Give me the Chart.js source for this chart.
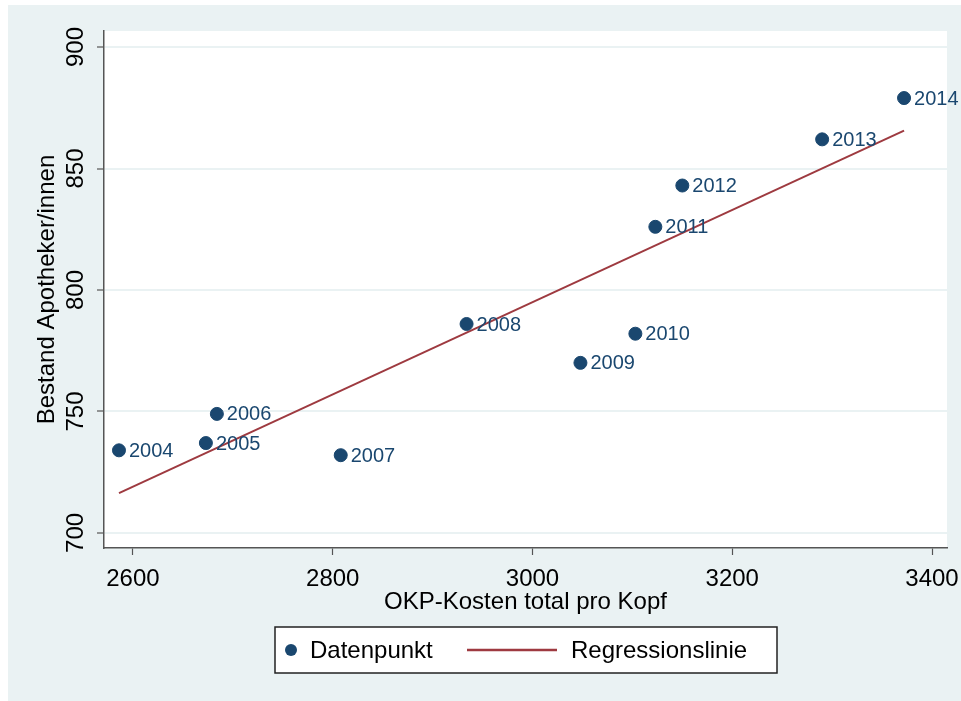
<!DOCTYPE html>
<html>
<head>
<meta charset="utf-8">
<script src="https://cdn.jsdelivr.net/npm/chart.js@4/dist/chart.umd.min.js"></script>
<style>
  html, body { margin: 0; padding: 0; background: #fff; }
  #wrap { width: 961px; height: 701px; }
</style>
</head>
<body>
<div id="wrap"><canvas id="chart"></canvas></div>
<script>
// Data
const years = ['2004', '2005', '2006', '2007', '2008', '2009', '2010', '2011', '2012', '2013', '2014'];
const costs = [2586, 2673, 2684, 2808, 2934, 3048, 3103, 3123, 3150, 3290, 3372];
const pharmacists = [734, 737, 749, 732, 786, 770, 782, 826, 843, 862, 879];

// Regression line end points
const regX = [2586, 3372];
const regY = [716.4, 865.6];

const xTicks = [2600, 2800, 3000, 3200, 3400];
const yTicks = [700, 750, 800, 850, 900];

const navy = '#1A476F';
const maroon = '#9E3A40';
const panel = '#EAF2F3';
const font = "'Liberation Sans', Arial, sans-serif";

// Background panel + white plot area
const backgroundPlugin = {
    id: 'background',
    beforeDraw(chart) {
        const { ctx, chartArea } = chart;
        ctx.save();
        ctx.fillStyle = '#fff';
        ctx.fillRect(0, 0, chart.width, chart.height);
        ctx.fillStyle = panel;
        ctx.fillRect(8, 5, chart.width - 8, chart.height - 5);
        ctx.fillStyle = '#fff';
        ctx.fillRect(chartArea.left, chartArea.top, chartArea.right - chartArea.left, chartArea.bottom - chartArea.top);
        ctx.restore();
    }
};

// Y tick labels are rotated like in Stata
const yLabelPlugin = {
    id: 'yLabels',
    afterDraw(chart) {
        const { ctx } = chart;
        const y = chart.scales.y;
        ctx.save();
        ctx.fillStyle = '#000';
        ctx.font = '24px ' + font;
        ctx.textAlign = 'center';
        ctx.textBaseline = 'middle';
        yTicks.forEach(v => {
            ctx.save();
            ctx.translate(76, y.getPixelForValue(v));
            ctx.rotate(-Math.PI / 2);
            ctx.fillText(String(v), 0, 0);
            ctx.restore();
        });
        ctx.restore();
    }
};

// Year labels next to each point
const pointLabelPlugin = {
    id: 'pointLabels',
    afterDatasetsDraw(chart) {
        const { ctx } = chart;
        const meta = chart.getDatasetMeta(0);
        ctx.save();
        ctx.fillStyle = navy;
        ctx.font = '20px ' + font;
        ctx.textAlign = 'left';
        ctx.textBaseline = 'middle';
        meta.data.forEach((pt, i) => {
            ctx.fillText(years[i], pt.x + 10, pt.y + 1);
        });
        ctx.restore();
    }
};

// Boxed legend at the bottom
const legendPlugin = {
    id: 'boxLegend',
    afterDraw(chart) {
        const { ctx } = chart;
        const left = 275, top = 627, w = 502, h = 46;
        const mid = top + h / 2;
        ctx.save();
        ctx.fillStyle = '#fff';
        ctx.fillRect(left, top, w, h);
        ctx.strokeStyle = '#222';
        ctx.lineWidth = 1.5;
        ctx.strokeRect(left, top, w, h);

        ctx.fillStyle = navy;
        ctx.beginPath();
        ctx.arc(291, mid, 6, 0, Math.PI * 2);
        ctx.fill();

        ctx.strokeStyle = maroon;
        ctx.lineWidth = 2.5;
        ctx.beginPath();
        ctx.moveTo(467, mid);
        ctx.lineTo(557, mid);
        ctx.stroke();

        ctx.fillStyle = '#000';
        ctx.font = '24px ' + font;
        ctx.textAlign = 'left';
        ctx.textBaseline = 'middle';
        ctx.fillText('Datenpunkt', 310, mid + 1);
        ctx.fillText('Regressionslinie', 571, mid + 1);
        ctx.restore();
    }
};

new Chart(document.getElementById('chart'), {
    type: 'scatter',
    data: {
        datasets: [
            {
                label: 'Datenpunkt',
                data: costs.map((c, i) => ({ x: c, y: pharmacists[i] })),
                backgroundColor: navy,
                borderColor: navy,
                pointRadius: 6.5,
                pointHoverRadius: 6.5,
                order: 1
            },
            {
                label: 'Regressionslinie',
                type: 'line',
                data: regX.map((x, i) => ({ x: x, y: regY[i] })),
                borderColor: maroon,
                borderWidth: 2,
                pointRadius: 0,
                fill: false,
                tension: 0,
                order: 2
            }
        ]
    },
    options: {
        responsive: true,
        maintainAspectRatio: false,
        animation: false,
        layout: {
            padding: { left: 20, right: 14, top: 31, bottom: 84 }
        },
        scales: {
            x: {
                type: 'linear',
                min: 2571,
                max: 3415,
                afterBuildTicks: s => { s.ticks = xTicks.map(v => ({ value: v })); },
                afterFit: s => { s.height = 69; s.paddingLeft = 0; s.paddingRight = 0; },
                grid: {
                    drawOnChartArea: false,
                    drawTicks: true,
                    tickLength: 7,
                    tickColor: '#555',
                    tickWidth: 1.2
                },
                border: { color: '#555', width: 1.5 },
                ticks: {
                    color: '#000',
                    font: { family: font, size: 24 },
                    padding: 10,
                    maxRotation: 0,
                    autoSkip: false,
                    callback: v => String(v)
                },
                title: {
                    display: true,
                    text: 'OKP-Kosten total pro Kopf',
                    color: '#000',
                    font: { family: font, size: 24 },
                    padding: { top: 0, bottom: 0 }
                }
            },
            y: {
                type: 'linear',
                min: 693.8,
                max: 906.6,
                afterBuildTicks: s => { s.ticks = yTicks.map(v => ({ value: v })); },
                afterFit: s => { s.width = 84; },
                grid: {
                    color: panel,
                    lineWidth: 2,
                    drawTicks: true,
                    tickLength: 7,
                    tickColor: '#555',
                    tickWidth: 1.2
                },
                border: { color: '#555', width: 1.5 },
                ticks: { display: false },
                title: {
                    display: true,
                    text: 'Bestand Apotheker/innen',
                    color: '#000',
                    font: { family: font, size: 24 },
                    padding: { top: 13, bottom: 0 }
                }
            }
        },
        plugins: {
            legend: { display: false },
            tooltip: { enabled: false }
        }
    },
    plugins: [backgroundPlugin, yLabelPlugin, pointLabelPlugin, legendPlugin]
});
</script>
</body>
</html>
